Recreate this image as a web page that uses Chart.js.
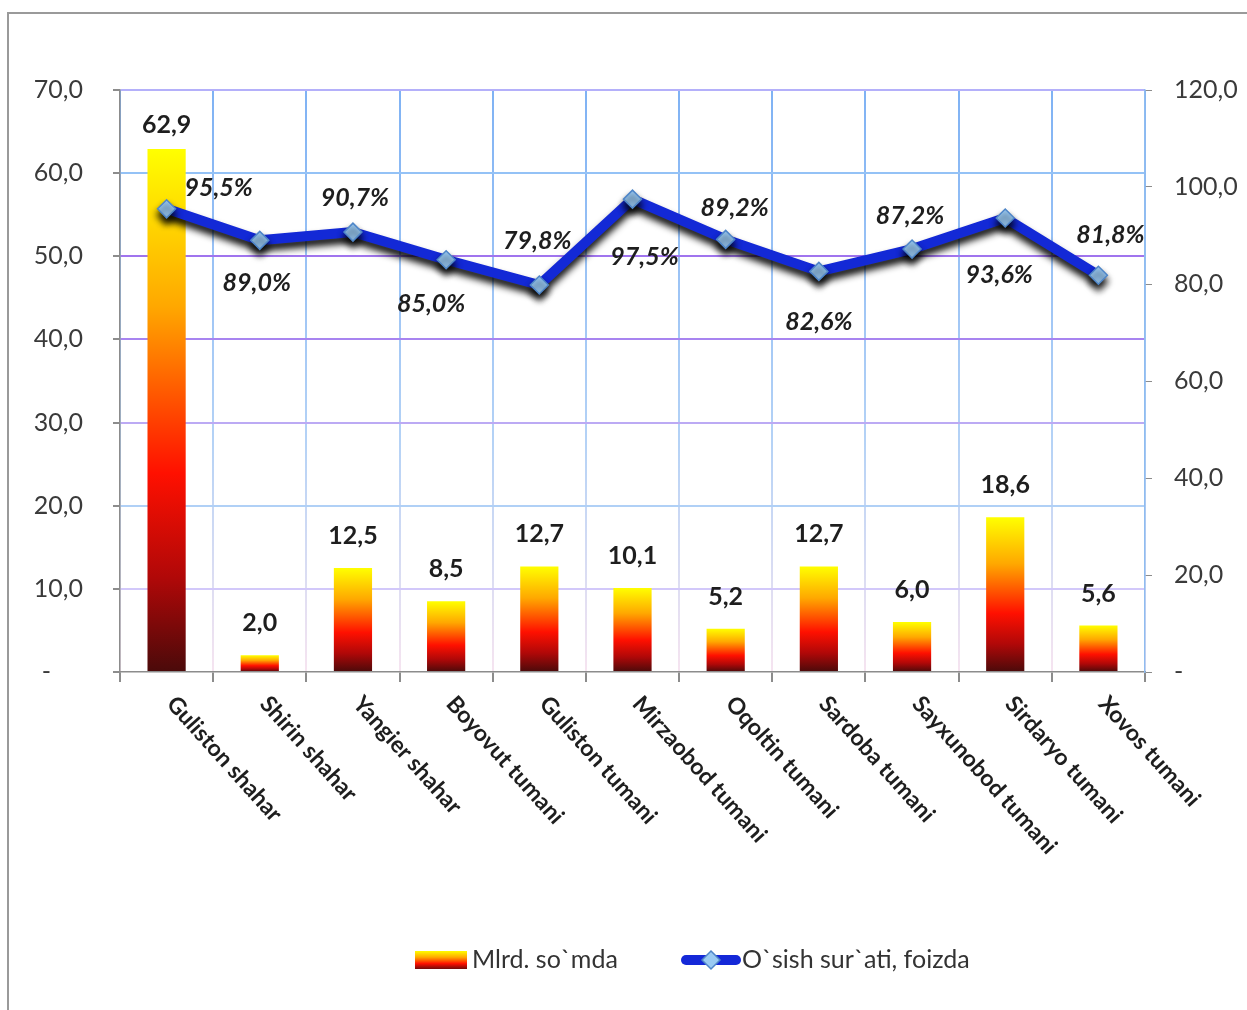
<!DOCTYPE html>
<html>
<head>
<meta charset="utf-8">
<script src="https://cdn.jsdelivr.net/npm/chart.js@4"></script>
<style>
  html, body { margin: 0; padding: 0; background: #fff; overflow: hidden; }
  #wrap { position: relative; width: 1247px; height: 1010px; }
  #frame { position: absolute; left: 7px; top: 12px; width: 1300px; height: 1100px;
           border: 2px solid #9a9a9a; box-sizing: border-box; }
  canvas { position: absolute; left: 0; top: 0; }
</style>
</head>
<body>
<div id="wrap">
  <div id="frame"></div>
  <canvas id="chart" width="1247" height="1010"></canvas>
</div>
<script>
// categories and values
const districts = [
    "Guliston shahar", "Shirin shahar", "Yangier shahar", "Boyovut tumani",
    "Guliston tumani", "Mirzaobod tumani", "Oqoltin tumani", "Sardoba tumani",
    "Sayxunobod tumani", "Sirdaryo tumani", "Xovos tumani"
];
const volumeBln = [62.9, 2.0, 12.5, 8.5, 12.7, 10.1, 5.2, 12.7, 6.0, 18.6, 5.6];
const growthPct = [95.5, 89.0, 90.7, 85.0, 79.8, 97.5, 89.2, 82.6, 87.2, 93.6, 81.8];

const barLabel = "Mlrd. so`mda";
const lineLabel = "O`sish sur`ati, foizda";

// where each % label sits relative to its point (dx, dy in px)
const growthLabelShift = [
    [52, -21], [-3, 43], [2, -34], [-15, 44], [-2, -44], [12, 58],
    [9, -31], [0, 51], [-2, -33], [-6, 57], [12, -40]
];

const FONT = "Lato, 'Open Sans', sans-serif";
const fmt = v => v.toFixed(1).replace(".", ",");

// horizontal gridline colours from the picture (by tick value)
const hGridColors = { 0: "rgba(0,0,0,0)", 10: "#d2c8fa", 20: "#b0d0f6", 30: "#bcaaf4",
                      40: "#a884f0", 50: "#a074ee", 60: "#94c2f6", 70: "#b4b0fa" };

function barGradient(ctx) {
    const chart = ctx.chart;
    if (!chart.chartArea || ctx.type !== "data") return "#ff8000";
    const y = chart.scales.y;
    const top = y.getPixelForValue(ctx.raw);
    const bottom = y.getPixelForValue(0);
    if (!isFinite(top) || bottom - top < 1) return "#ff8000";
    const g = chart.ctx.createLinearGradient(0, top, 0, bottom);
    g.addColorStop(0, "#ffff00");
    g.addColorStop(0.3, "#ffa800");
    g.addColorStop(0.62, "#ff1000");
    g.addColorStop(0.82, "#b00808");
    g.addColorStop(1, "#4a0a0a");
    return g;
}

function vGridColor(ctx) {
    const chart = ctx.chart;
    if (!chart.chartArea) return "#9cc4f6";
    const g = chart.ctx.createLinearGradient(0, chart.chartArea.top, 0, chart.chartArea.bottom);
    g.addColorStop(0, "#7fb2f4");
    g.addColorStop(0.6, "#b4d2f6");
    g.addColorStop(1, "#f6e4f0");
    return g;
}

// shadow under the growth line
const lineShadow = {
    id: "lineShadow",
    beforeDatasetDraw(chart, args) {
        if (args.index !== 1) return;
        const c = chart.ctx;
        c.save();
        c.shadowColor = "rgba(0,0,0,0.95)";
        c.shadowBlur = 7;
        c.shadowOffsetY = 6;
    },
    afterDatasetDraw(chart, args) {
        if (args.index !== 1) return;
        chart.ctx.restore();
    }
};

// value labels, rotated category labels and legend
const decorations = {
    id: "decorations",
    afterDatasetsDraw(chart) {
        const c = chart.ctx;
        const x = chart.scales.x;
        const barMeta = chart.getDatasetMeta(0);
        const lineMeta = chart.getDatasetMeta(1);

        c.save();
        c.fillStyle = "#1e1e1e";
        c.textAlign = "center";
        c.textBaseline = "middle";
        c.font = "bold 25px " + FONT;
        barMeta.data.forEach((bar, i) => {
            const ty = Math.max(bar.y - 32, 125);
            c.fillText(fmt(volumeBln[i]), bar.x, ty);
        });

        c.font = "italic bold 25px " + FONT;
        lineMeta.data.forEach((pt, i) => {
            const s = growthLabelShift[i];
            c.fillText(fmt(growthPct[i]) + "%", pt.x + s[0], pt.y + s[1]);
        });

        // category labels slanted, reading downwards
        c.font = "bold 23px " + FONT;
        c.textAlign = "left";
        c.textBaseline = "top";
        districts.forEach((name, i) => {
            const px = x.getPixelForTick(i);
            c.save();
            c.translate(px + 4, x.top + 28);
            c.rotate(48 * Math.PI / 180);
            c.fillText(name, 0, -12);
            c.restore();
        });

        // legend
        const ly = 960;
        const g = c.createLinearGradient(0, ly - 9, 0, ly + 9);
        g.addColorStop(0, "#ffff00");
        g.addColorStop(0.35, "#ffa800");
        g.addColorStop(0.7, "#ff1000");
        g.addColorStop(1, "#700a0a");
        c.fillStyle = g;
        c.fillRect(415, ly - 9, 52, 18);
        c.fillStyle = "#333";
        c.font = "25px " + FONT;
        c.textBaseline = "middle";
        c.fillText(barLabel, 472, ly);

        c.strokeStyle = "#1428d8";
        c.lineWidth = 10;
        c.lineCap = "round";
        c.beginPath();
        c.moveTo(686, ly);
        c.lineTo(736, ly);
        c.stroke();
        c.fillStyle = "#9acaf2";
        c.strokeStyle = "#4f86c8";
        c.lineWidth = 1.5;
        c.beginPath();
        c.moveTo(711, ly - 9);
        c.lineTo(720, ly);
        c.lineTo(711, ly + 9);
        c.lineTo(702, ly);
        c.closePath();
        c.fill();
        c.stroke();
        c.fillStyle = "#333";
        c.fillText(lineLabel, 742, ly);
        c.restore();
    }
};

new Chart(document.getElementById("chart"), {
    type: "bar",
    data: {
        labels: districts,
        datasets: [
            {
                type: "bar",
                label: barLabel,
                data: volumeBln,
                yAxisID: "y",
                backgroundColor: barGradient,
                borderWidth: 0,
                barPercentage: 0.82,
                categoryPercentage: 0.5,
                order: 2
            },
            {
                type: "line",
                label: lineLabel,
                data: growthPct,
                yAxisID: "y2",
                borderColor: "#1329d6",
                borderWidth: 10,
                borderJoinStyle: "round",
                tension: 0,
                pointStyle: "rectRot",
                pointRadius: 9,
                pointBackgroundColor: "#98c8f2",
                pointBorderColor: "#4f86c8",
                pointBorderWidth: 1.5,
                order: 1
            }
        ]
    },
    options: {
        responsive: false,
        animation: false,
        devicePixelRatio: 1,
        layout: { padding: { top: 90, left: 0, right: 0, bottom: 0 } },
        plugins: { legend: { display: false }, tooltip: { enabled: false } },
        scales: {
            x: {
                offset: true,
                grid: { offset: true, color: vGridColor, lineWidth: 2, tickLength: 10, tickColor: "#8c8c8c" },
                border: { color: "#8c8c8c", width: 1.5 },
                ticks: { display: false },
                afterFit(s) { s.height = 338; }
            },
            y: {
                position: "left",
                min: 0, max: 70,
                ticks: {
                    stepSize: 10,
                    color: "#3a3a3a",
                    font: { family: FONT, size: 25 },
                    padding: 30,
                    callback: v => v === 0 ? "-     " : fmt(v)
                },
                grid: {
                    color: ctx => hGridColors[ctx.tick ? ctx.tick.value : 0] || "#b0d0f6",
                    lineWidth: 2,
                    tickLength: 7,
                    tickColor: "#8c8c8c"
                },
                border: { color: "#8c8c8c", width: 1.5 },
                afterFit(s) { s.width = 120; }
            },
            y2: {
                position: "right",
                min: 0, max: 120,
                ticks: {
                    stepSize: 20,
                    color: "#3a3a3a",
                    font: { family: FONT, size: 25 },
                    padding: 22,
                    callback: v => v === 0 ? "-" : fmt(v)
                },
                grid: { drawOnChartArea: false, tickLength: 7, tickColor: "#8c8c8c" },
                border: { color: "#8fbcf0", width: 1.5 },
                afterFit(s) { s.width = 102; }
            }
        }
    },
    plugins: [lineShadow, decorations]
});
</script>
</body>
</html>
